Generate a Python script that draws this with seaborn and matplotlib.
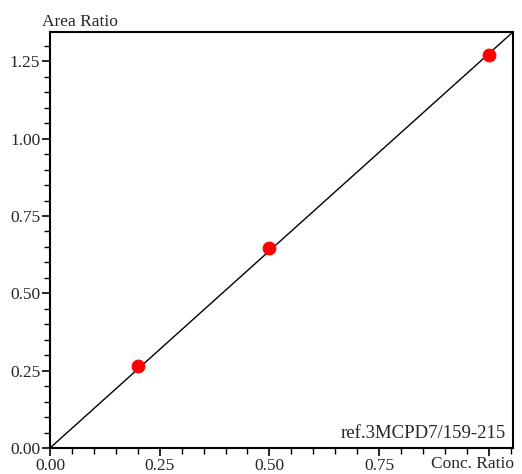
import numpy as np
import matplotlib
matplotlib.use("Agg")
import matplotlib.pyplot as plt
import seaborn as sns
from matplotlib.ticker import MultipleLocator

# Datos de calibración
conc_ratio = [0.20, 0.50, 1.00]
area_ratio = [0.265, 0.647, 1.272]
slope = 1.275
x_ticks = [0.00, 0.25, 0.50, 0.75, 1.00]
x_labels = ["0.00", "0.25", "0.50", "0.75", ""]
y_ticks = [0.00, 0.25, 0.50, 0.75, 1.00, 1.25]

sns.set_style("ticks")
plt.rcParams["font.family"] = ["Liberation Serif", "DejaVu Serif"]

fig = plt.figure(figsize=(5.22, 4.74), dpi=100)
ax = fig.add_axes([50 / 522, 26 / 474, 463 / 522, 416 / 474])

xs = np.array([0.0, 1.055])
sns.lineplot(x=xs, y=slope * xs, color="black", lw=1.0, ax=ax)
sns.scatterplot(x=conc_ratio, y=area_ratio, color="red", s=85, edgecolor="red", ax=ax, zorder=3)

ax.set_xlim(0, 1.055)
ax.set_ylim(0, 1.345)
ax.set_xticks(x_ticks)
ax.set_xticklabels(x_labels)
ax.set_yticks(y_ticks)
ax.set_yticklabels([f"{v:.2f}" for v in y_ticks])
ax.xaxis.set_minor_locator(MultipleLocator(0.05))
ax.yaxis.set_minor_locator(MultipleLocator(0.05))
ax.tick_params(which="major", direction="out", length=6, width=1.2, labelsize=12.5, pad=1, color="black")
ax.tick_params(which="minor", direction="out", length=4, width=1.0, color="black")
for s in ax.spines.values():
    s.set_linewidth(1.5)
    s.set_color("black")

# Etiquetas de ejes
fig.text(42 / 522, 1 - 22 / 474, "Area Ratio", fontsize=12.5, va="center", ha="left")
fig.text(514 / 522, 1 - 464 / 474, "Conc. Ratio", fontsize=12.5, va="center", ha="right")
ax.text(0.985, 0.015, "ref.3MCPD7/159-215", transform=ax.transAxes, fontsize=13.5, ha="right", va="bottom")

fig.savefig("out.png", dpi=100)
